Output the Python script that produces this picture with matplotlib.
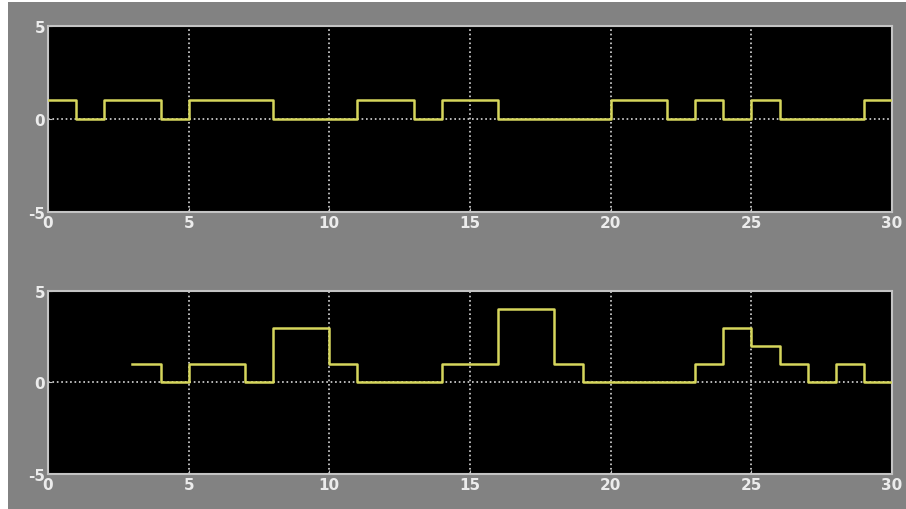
import matplotlib.pyplot as plt
from matplotlib.patches import Rectangle

# sample times and values (zero-order hold, 1 s steps)
t_top = list(range(0, 31))
y_top = [1, 0, 1, 1, 0, 1, 1, 1, 0, 0, 0, 1, 1, 0, 1, 1, 0, 0, 0, 0,
         1, 1, 0, 1, 0, 1, 0, 0, 0, 1, 1]

t_bot = list(range(3, 31))
y_bot = [1, 0, 1, 1, 0, 3, 3, 1, 0, 0, 0, 1, 1, 4, 4, 1, 0, 0, 0, 0,
         1, 3, 2, 1, 0, 1, 0, 0]

x_ticks = [0, 5, 10, 15, 20, 25, 30]
y_ticks = [-5, 0, 5]
y_ticklabels = ["-5", "0", "5"]

line_col = "#d6d65c"
frame_col = "#c4c4c4"
text_col = "#ececec"

fig = plt.figure(figsize=(9.06, 5.10), dpi=100)
fig.patch.set_facecolor("white")
fig.patches.append(Rectangle((8 / 906, 0), 1, 1 - 3 / 510, transform=fig.transFigure,
                             facecolor="#828282", edgecolor="none", zorder=-10))

positions = [[0.053, 0.5824, 0.9316, 0.3647], [0.053, 0.0686, 0.9316, 0.359]]
series = [(t_top, y_top), (t_bot, y_bot)]

for pos, (t, y) in zip(positions, series):
    ax = fig.add_axes(pos)
    ax.set_facecolor("black")
    ax.plot(t, y, drawstyle="steps-post", color=line_col, lw=1.8, zorder=3)
    ax.set_xlim(0, 30)
    ax.set_ylim(-5, 5)
    ax.set_xticks(x_ticks)
    ax.set_yticks(y_ticks)
    ax.set_yticklabels(y_ticklabels)
    ax.grid(True, color="white", linestyle=":", linewidth=1.2, alpha=0.85)
    for s in ax.spines.values():
        s.set_color(frame_col)
        s.set_linewidth(1.5)
    ax.tick_params(colors=frame_col, labelcolor=text_col, labelsize=11,
                   direction="in", length=3, pad=2)
    for lab in ax.get_xticklabels() + ax.get_yticklabels():
        lab.set_fontweight("bold")

fig.savefig("out.png", dpi=100, facecolor=fig.get_facecolor())
